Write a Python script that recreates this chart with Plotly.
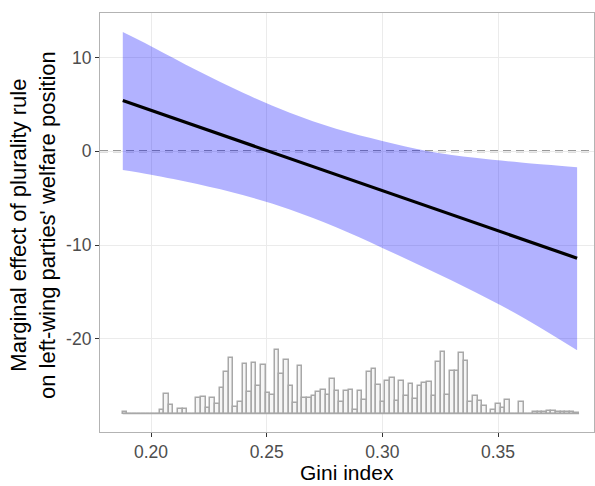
import plotly.graph_objects as go
import numpy as np

# ---- data ----
gini_pts = [0.1878, 0.20, 0.22, 0.24, 0.26, 0.28, 0.30, 0.32, 0.34, 0.36, 0.3842]
ci_upper = [12.7, 11.2, 8.6, 6.2, 4.1, 2.4, 1.1, 0.0, -0.7, -1.2, -1.7]
ci_lower = [-2.0, -2.5, -3.5, -4.7, -6.2, -8.1, -10.3, -12.6, -15.0, -17.6, -21.2]

line_x = [0.1878, 0.3842]
line_y = [5.4, -11.4]

hist_range = [0.18776, 0.38504]
hist_counts = [1.5, 0, 0, 0, 0, 0, 0, 0, 4, 20,
               8.5, 0, 5, 5, 0, 0, 16, 17, 6, 16,
               10, 25, 41, 55, 7, 12, 49, 22, 50, 27,
               48, 21, 19, 63, 39, 53, 27, 11, 47, 16,
               16, 18, 22, 24, 19, 34, 23, 12, 23, 24,
               4, 23, 14, 41, 44, 28, 12, 32, 35, 13,
               32, 18, 29, 15, 27, 30, 31, 18, 51, 61,
               19, 42, 42, 60, 52, 12, 18, 13, 8, 0,
               4, 10, 6, 14, 0, 0, 12, 0, 0, 2,
               2, 2, 3, 3, 2, 2, 2, 2, 1]

x_ticks = [0.20, 0.25, 0.30, 0.35]
x_ticklabels = ["0.20", "0.25", "0.30", "0.35"]
y_ticks = [10, 0, -10, -20]
y_ticklabels = ["10", "0", "-10", "-20"]

# ---- styling ----
hist_base = -27.95
hist_scale = 1 / 9.377
nb = len(hist_counts)
edges = np.linspace(hist_range[0], hist_range[1], nb + 1)
centers = (edges[:-1] + edges[1:]) / 2
bw = edges[1] - edges[0]
heights = np.array(hist_counts) * hist_scale

font_fam = "Liberation Sans, Arial, sans-serif"

fig = go.Figure()

# baseline of histogram (zero-count bins drawn as a flat line)
fig.add_trace(go.Scatter(x=[edges[0], edges[-1]], y=[hist_base, hist_base], mode="lines",
                         line=dict(color="#a8a8a8", width=1.5), hoverinfo="skip", showlegend=False))
fig.add_trace(go.Bar(x=centers, y=heights, base=hist_base, width=bw,
                     marker=dict(color="rgba(225,225,225,0.3)", line=dict(color="#a8a8a8", width=1.5)),
                     showlegend=False))

# ribbon
fig.add_trace(go.Scatter(x=gini_pts, y=ci_lower, mode="lines", line=dict(width=0, shape="spline"),
                         showlegend=False, hoverinfo="skip"))
fig.add_trace(go.Scatter(x=gini_pts, y=ci_upper, mode="lines", line=dict(width=0, shape="spline"),
                         fill="tonexty", fillcolor="rgba(0,0,255,0.3)", showlegend=False, hoverinfo="skip"))

# estimate line
fig.add_trace(go.Scatter(x=line_x, y=line_y, mode="lines", line=dict(color="black", width=3.2),
                         showlegend=False))

fig.add_shape(type="line", xref="paper", x0=0, x1=1, yref="y", y0=0, y1=0,
              line=dict(color="#777777", width=1.8, dash="8px,5px"), layer="below")

tickfont = dict(size=17.5, color="#4d4d4d", family=font_fam)
fig.update_layout(
    width=595, height=486,
    margin=dict(l=100, r=1, t=13, b=54),
    plot_bgcolor="white", paper_bgcolor="white",
    bargap=0,
    font=dict(family=font_fam),
    xaxis=dict(range=[0.17795, 0.3915], tickvals=x_ticks, ticktext=x_ticklabels,
               showgrid=True, gridcolor="#ebebeb", gridwidth=1.2, zeroline=False,
               showline=True, linecolor="#b3b3b3", linewidth=1.2, mirror=True,
               ticks="outside", ticklen=4, tickcolor="#333333", tickwidth=1.1,
               tickfont=tickfont),
    yaxis=dict(range=[-29.92, 14.73], tickvals=y_ticks, ticktext=y_ticklabels,
               showgrid=True, gridcolor="#ebebeb", gridwidth=1.2, zeroline=False,
               showline=True, linecolor="#b3b3b3", linewidth=1.2, mirror=True,
               ticks="outside", ticklen=4, tickcolor="#333333", tickwidth=1.1,
               tickfont=tickfont),
    annotations=[
        dict(text="Gini index", xref="paper", yref="paper", x=0.5, y=-0.0955,
             xanchor="center", yanchor="middle", showarrow=False,
             font=dict(size=21, color="black", family=font_fam)),
        dict(text="Marginal effect of plurality rule<br>on left-wing parties' welfare position",
             xref="paper", yref="paper", x=-0.1356, y=0.494, textangle=-90,
             xanchor="center", yanchor="middle", showarrow=False,
             font=dict(size=22, color="black", family=font_fam)),
    ],
)

fig.write_html("out.html")
